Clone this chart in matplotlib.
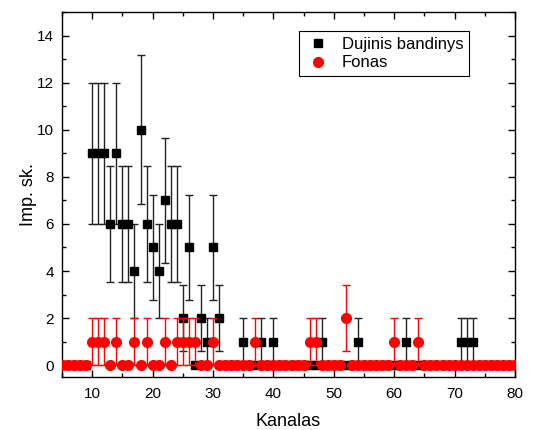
import numpy as np
import matplotlib.pyplot as plt
from matplotlib.lines import Line2D
from matplotlib.ticker import MultipleLocator

plt.rcParams['font.family'] = ['Liberation Sans', 'DejaVu Sans']

# channel numbers 5..80
channels = list(range(5, 81))

# counts for the gas sample (Dujinis bandinys), by channel
sample_nonzero = {10: 9, 11: 9, 12: 9, 13: 6, 14: 9, 15: 6, 16: 6, 17: 4, 18: 10,
                  19: 6, 20: 5, 21: 4, 22: 7, 23: 6, 24: 6, 25: 2, 26: 5, 28: 2,
                  29: 1, 30: 5, 31: 2, 35: 1, 38: 1, 40: 1, 48: 1, 54: 1, 62: 1,
                  71: 1, 72: 1, 73: 1}
# counts for the background (Fonas), by channel
background_nonzero = {10: 1, 11: 1, 12: 1, 14: 1, 17: 1, 19: 1, 22: 1, 24: 1,
                      25: 1, 26: 1, 27: 1, 30: 1, 37: 1, 46: 1, 47: 1, 52: 2,
                      60: 1, 64: 1}

sample = np.array([sample_nonzero.get(c, 0) for c in channels], dtype=float)
background = np.array([background_nonzero.get(c, 0) for c in channels], dtype=float)

fig = plt.figure(figsize=(5.37, 4.30), dpi=100)
ax = fig.add_axes([0.1155, 0.1233, 0.8435, 0.8487])

ax.errorbar(channels, sample, yerr=np.sqrt(sample), fmt='s', color='black',
            ecolor='#222222', elinewidth=1, capsize=3, capthick=1, ms=6,
            zorder=2)
ax.errorbar(channels, background, yerr=np.sqrt(background), fmt='o', color='red',
            ecolor='red', elinewidth=1, capsize=3, capthick=1, ms=7,
            zorder=3)

ax.set_xlim(5, 80)
ax.set_ylim(-0.5, 15)
ax.xaxis.set_major_locator(MultipleLocator(10))
ax.xaxis.set_minor_locator(MultipleLocator(5))
ax.yaxis.set_major_locator(MultipleLocator(2))
ax.yaxis.set_minor_locator(MultipleLocator(1))
ax.set_yticks(range(0, 15, 2))
ax.tick_params(which='both', direction='in', top=True, right=True, labelsize=11)
ax.tick_params(which='major', length=5, width=1)
ax.tick_params(axis='x', which='major', pad=7)
ax.tick_params(axis='y', which='major', pad=6)
ax.tick_params(which='minor', length=3, width=1)
for s in ax.spines.values():
    s.set_linewidth(1)

ax.set_xlabel('Kanalas', fontsize=13, labelpad=9)
ax.set_ylabel('Imp. sk.', fontsize=13, labelpad=0)

handles = [Line2D([], [], ls='none', marker='s', color='black', ms=6),
           Line2D([], [], ls='none', marker='o', color='red', ms=7)]
leg = ax.legend(handles, ['Dujinis bandinys', 'Fonas'], loc='upper left',
                bbox_to_anchor=(0.505, 0.97), fontsize=12,
                frameon=True, fancybox=False, edgecolor='black', framealpha=1,
                handletextpad=0.6, borderpad=0.35, labelspacing=0.2,
                handlelength=1.6)
leg.get_frame().set_linewidth(0.8)

fig.savefig('out.png', dpi=100)
